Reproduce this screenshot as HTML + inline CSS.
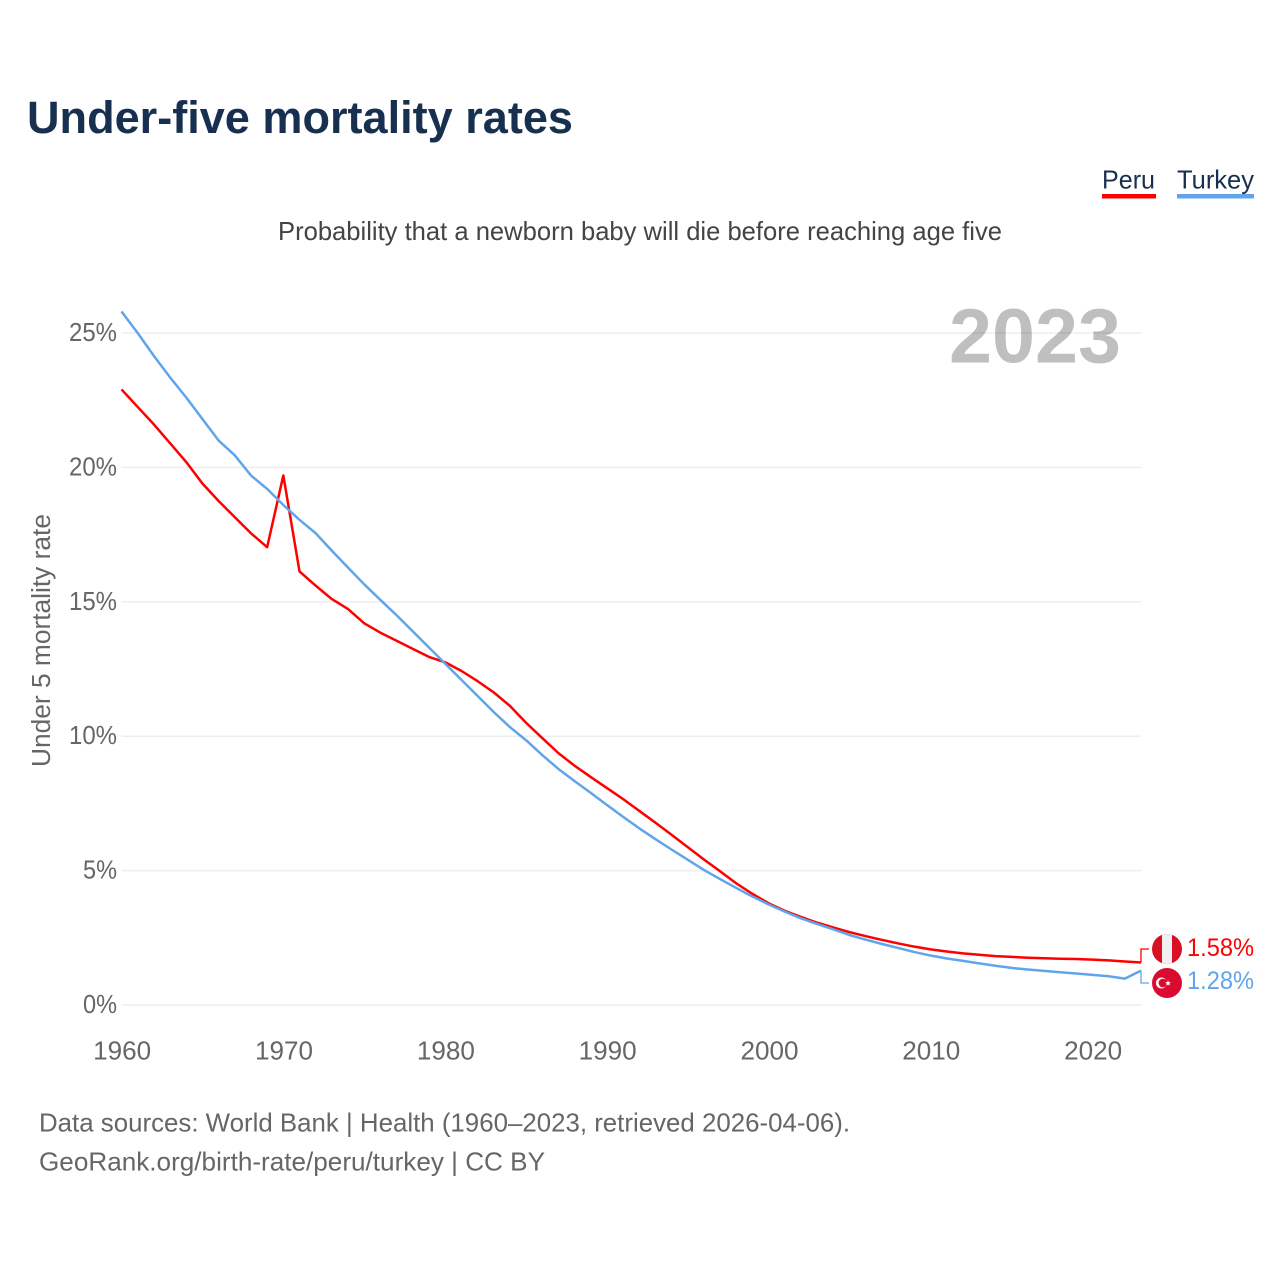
<!DOCTYPE html>
<html lang="en">
<head>
<meta charset="utf-8">
<title>Under-five mortality rates</title>
<style>
html,body{margin:0;padding:0;background:#fff;}
svg{display:block;font-family:"Liberation Sans",sans-serif;}
</style>
</head>
<body>
<svg id="chart" xmlns="http://www.w3.org/2000/svg" width="1280" height="1280" viewBox="0 0 1280 1280">
  <defs>
    <clipPath id="peru-clip"><circle cx="1167" cy="949" r="15"/></clipPath>
  </defs>
  <rect width="1280" height="1280" fill="#fff"/>
  <text x="27" y="133" font-size="45" font-weight="700" fill="#18304f" textLength="546" lengthAdjust="spacingAndGlyphs">Under-five mortality rates</text>
  <text x="1102" y="188.5" font-size="26" fill="#18304f" textLength="53" lengthAdjust="spacingAndGlyphs">Peru</text>
  <rect x="1102" y="194" width="54" height="4.5" fill="#ff0000"/>
  <text x="1177" y="188.5" font-size="26" fill="#18304f" textLength="77" lengthAdjust="spacingAndGlyphs">Turkey</text>
  <rect x="1177" y="194" width="77" height="4.5" fill="#60a5ec"/>
  <text x="278" y="240" font-size="26" fill="#444" textLength="724" lengthAdjust="spacingAndGlyphs">Probability that a newborn baby will die before reaching age five</text>
  <text transform="translate(50,767) rotate(-90)" x="0" y="0" font-size="25.5" fill="#666" textLength="253" lengthAdjust="spacingAndGlyphs">Under 5 mortality rate</text>
  <g id="grid"></g>
  <g id="y-ticks"></g>
  <g id="x-ticks"></g>
  <text x="949" y="362.5" font-size="77" font-weight="700" fill="#000" fill-opacity="0.25" textLength="172" lengthAdjust="spacingAndGlyphs">2023</text>
  <g id="series"></g>
  <g>
    <circle cx="1167" cy="949" r="15" fill="#d91023"/>
    <rect x="1162" y="934" width="10" height="30" fill="#f0f0f0" clip-path="url(#peru-clip)"/>
  </g>
  <g>
    <circle cx="1167" cy="983" r="15" fill="#dc0a30"/>
    <circle cx="1161.5" cy="983" r="5.5" fill="#fff"/>
    <circle cx="1163" cy="983" r="4.4" fill="#dc0a30"/>
    <polygon points="1168,980.2 1168.8,982.2 1170.9,982.3 1169.3,983.6 1169.8,985.7 1168,984.5 1166.2,985.7 1166.7,983.6 1165.1,982.3 1167.2,982.2" fill="#fff"/>
  </g>
  <text x="1187" y="956" font-size="25" fill="#ff0000" textLength="67" lengthAdjust="spacingAndGlyphs">1.58%</text>
  <text x="1187" y="989" font-size="25" fill="#60a5ec" textLength="67" lengthAdjust="spacingAndGlyphs">1.28%</text>
  <text x="39" y="1131.5" font-size="26" fill="#666" textLength="811" lengthAdjust="spacingAndGlyphs">Data sources: World Bank | Health (1960–2023, retrieved 2026-04-06).</text>
  <text x="39" y="1170.5" font-size="26" fill="#666" textLength="506" lengthAdjust="spacingAndGlyphs">GeoRank.org/birth-rate/peru/turkey | CC BY</text>
</svg>
<script>
const startYear = 1960;
const peruValues = [22.9,22.25,21.6,20.9,20.2,19.4,18.75,18.15,17.55,17.03,19.7,16.13,15.6,15.1,14.73,14.2,13.85,13.55,13.25,12.95,12.75,12.43,12.05,11.63,11.13,10.5,9.93,9.37,8.9,8.48,8.07,7.66,7.22,6.78,6.33,5.87,5.41,4.97,4.52,4.13,3.78,3.5,3.27,3.06,2.88,2.71,2.56,2.42,2.29,2.17,2.07,1.99,1.92,1.87,1.82,1.79,1.76,1.74,1.72,1.71,1.69,1.66,1.62,1.58];
const turkeyValues = [25.8,25.0,24.15,23.35,22.6,21.8,21.0,20.45,19.7,19.2,18.6,18.05,17.55,16.9,16.27,15.65,15.07,14.5,13.9,13.3,12.7,12.1,11.5,10.9,10.34,9.85,9.3,8.78,8.33,7.89,7.44,7.0,6.57,6.17,5.78,5.4,5.02,4.68,4.35,4.03,3.74,3.47,3.22,3.01,2.81,2.6,2.43,2.27,2.12,1.97,1.84,1.73,1.64,1.55,1.46,1.38,1.32,1.27,1.22,1.17,1.12,1.07,0.98,1.28];
const yTickValues = [0,5,10,15,20,25];
const xTickValues = [1960,1970,1980,1990,2000,2010,2020];

const NS = 'http://www.w3.org/2000/svg';
const xScale = (year) => 121.5 + (year - 1960) * (1141 - 121.5) / 63;
const yScale = (value) => 1005 - value * 26.88;
const gridGroup = document.getElementById('grid');
const yTickGroup = document.getElementById('y-ticks');
const xTickGroup = document.getElementById('x-ticks');
const seriesGroup = document.getElementById('series');

yTickValues.forEach((value) => {
  const line = document.createElementNS(NS, 'line');
  
  
  line.setAttribute('x1', xScale(1960));
  line.setAttribute('x2', xScale(2023));
  line.setAttribute('y1', yScale(value));
  line.setAttribute('y2', yScale(value));
  line.setAttribute('stroke', '#eeeeee');
  line.setAttribute('stroke-width', '1.5');
  gridGroup.appendChild(line);

  const label = document.createElementNS(NS, 'text');
  
  
  const str = value + '%';
  const width = value >= 10 ? 48 : 34;
  label.setAttribute('x', 117 - width);
  label.setAttribute('y', yScale(value) + 8);
  label.setAttribute('font-size', '26');
  label.setAttribute('fill', '#666');
  label.setAttribute('textLength', width);
  label.setAttribute('lengthAdjust', 'spacingAndGlyphs');
  label.textContent = str;
  yTickGroup.appendChild(label);
});

xTickValues.forEach((year) => {
  const label = document.createElementNS(NS, 'text');
  
  
  label.setAttribute('x', xScale(year) - 28.3);
  label.setAttribute('y', 1059.5);
  label.setAttribute('font-size', '26');
  label.setAttribute('fill', '#666');
  label.setAttribute('textLength', '58');
  label.setAttribute('lengthAdjust', 'spacingAndGlyphs');
  label.textContent = year;
  xTickGroup.appendChild(label);
});

function drawSeries(values, color, calloutY) {
  const pts = values.map((v, i) => xScale(startYear + i).toFixed(2) + ',' + yScale(v).toFixed(2));
  const lastX = xScale(startYear + values.length - 1);
  const lastY = yScale(values[values.length - 1]);
  const line = document.createElementNS(NS, 'polyline');
  
  
  line.setAttribute('points', pts.join(' '));
  line.setAttribute('fill', 'none');
  line.setAttribute('stroke', color);
  line.setAttribute('stroke-width', '2.5');
  line.setAttribute('stroke-linejoin', 'round');
  seriesGroup.appendChild(line);

  const connector = document.createElementNS(NS, 'polyline');
  
  
  connector.setAttribute('points', lastX + ',' + lastY + ' ' + lastX + ',' + calloutY + ' 1149,' + calloutY);
  connector.setAttribute('fill', 'none');
  connector.setAttribute('stroke', color);
  connector.setAttribute('stroke-width', '1.3');
  seriesGroup.appendChild(connector);
}
drawSeries(peruValues, '#ff0000', 949);
drawSeries(turkeyValues, '#60a5ec', 983);
</script>
</body>
</html>
